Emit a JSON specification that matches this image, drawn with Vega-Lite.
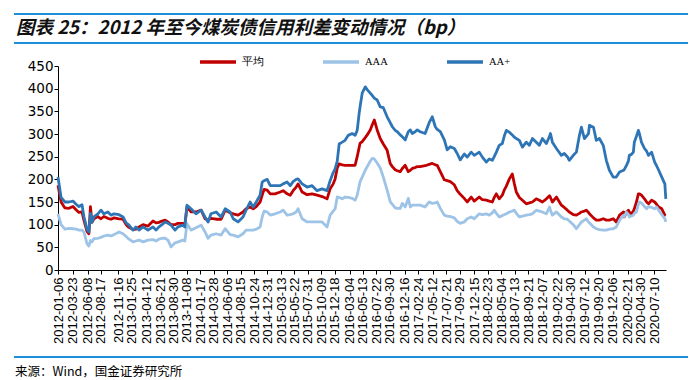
{
  "$schema": "https://vega.github.io/schema/vega-lite/v6.json",
  "background": "white",
  "padding": {"left": 12, "top": 12, "right": 2, "bottom": 0},
  "spacing": 5,
  "resolve": {"scale": {"color": "independent"}, "legend": {"color": "independent"}},
  "config": {"font": "Liberation Sans", "view": {"stroke": null}},
  "vconcat": [
    {
      "width": 674,
      "height": 29,
      "view": {"stroke": "#1B8FD8", "strokeWidth": 2, "strokeDash": [674, 29, 674, 29]},
      "title": {"text": "图表 25：2012 年至今煤炭债信用利差变动情况（bp）", "anchor": "start", "frame": "group", "orient": "top", "offset": -24, "dx": 2, "font": "Noto Sans CJK SC", "fontSize": 18.5, "fontWeight": "bold", "fontStyle": "italic", "color": "#111111"},
      "data": {"values": [{"line": 0}, {"line": 1}]},
      "mark": {"type": "rule", "color": "#1B8FD8", "strokeWidth": 2},
      "encoding": {"y": {"field": "line", "type": "quantitative", "scale": {"domain": [0, 1]}, "axis": null}}
    },
    {
      "spacing": 12,
      "resolve": {"scale": {"color": "independent"}, "legend": {"color": "independent"}},
      "hconcat": [
        {
          "width": 1,
          "height": 1,
          "data": {"values": []},
          "mark": "point",
          "encoding": {}
        },
        {
          "width": 608,
          "height": 204,
          "data": {"values": [
            {"date": "2012-01-06", "平均": 187, "AAA": 124, "AA+": 205},
            {"date": "2012-01-22", "平均": 150, "AAA": 100, "AA+": 160},
            {"date": "2012-02-11", "平均": 137, "AAA": 90, "AA+": 150},
            {"date": "2012-03-03", "平均": 136, "AAA": 92, "AA+": 150},
            {"date": "2012-03-24", "平均": 140, "AAA": 91, "AA+": 152},
            {"date": "2012-04-09", "平均": 133, "AAA": 90, "AA+": 145},
            {"date": "2012-04-24", "平均": 127, "AAA": 88, "AA+": 140},
            {"date": "2012-05-10", "平均": 128, "AAA": 88, "AA+": 144},
            {"date": "2012-05-20", "平均": 110, "AAA": 84, "AA+": 118},
            {"date": "2012-06-05", "平均": 85, "AAA": 58, "AA+": 90},
            {"date": "2012-06-15", "平均": 80, "AAA": 53, "AA+": 84},
            {"date": "2012-06-23", "平均": 140, "AAA": 65, "AA+": 125},
            {"date": "2012-07-01", "平均": 105, "AAA": 62, "AA+": 105},
            {"date": "2012-07-11", "平均": 113, "AAA": 69, "AA+": 117},
            {"date": "2012-08-01", "平均": 118, "AAA": 70, "AA+": 124},
            {"date": "2012-08-17", "平均": 113, "AAA": 72, "AA+": 132},
            {"date": "2012-09-01", "平均": 118, "AAA": 75, "AA+": 124},
            {"date": "2012-09-22", "平均": 114, "AAA": 77, "AA+": 128},
            {"date": "2012-10-08", "平均": 112, "AAA": 75, "AA+": 121},
            {"date": "2012-10-24", "平均": 115, "AAA": 78, "AA+": 124},
            {"date": "2012-11-19", "平均": 113, "AAA": 84, "AA+": 122},
            {"date": "2012-12-10", "平均": 112, "AAA": 80, "AA+": 117},
            {"date": "2012-12-26", "平均": 100, "AAA": 74, "AA+": 104},
            {"date": "2013-01-10", "平均": 94, "AAA": 68, "AA+": 99},
            {"date": "2013-01-31", "平均": 89, "AAA": 62, "AA+": 88},
            {"date": "2013-02-15", "平均": 90, "AAA": 64, "AA+": 95},
            {"date": "2013-03-03", "平均": 95, "AAA": 66, "AA+": 88},
            {"date": "2013-03-24", "平均": 100, "AAA": 62, "AA+": 95},
            {"date": "2013-04-19", "平均": 97, "AAA": 66, "AA+": 88},
            {"date": "2013-05-15", "平均": 108, "AAA": 67, "AA+": 95},
            {"date": "2013-05-31", "平均": 104, "AAA": 64, "AA+": 88},
            {"date": "2013-06-15", "平均": 105, "AAA": 68, "AA+": 95},
            {"date": "2013-07-01", "平均": 108, "AAA": 70, "AA+": 100},
            {"date": "2013-07-17", "平均": 110, "AAA": 70, "AA+": 106},
            {"date": "2013-08-01", "平均": 106, "AAA": 66, "AA+": 103},
            {"date": "2013-08-17", "平均": 100, "AAA": 51, "AA+": 99},
            {"date": "2013-09-07", "平均": 100, "AAA": 60, "AA+": 88},
            {"date": "2013-09-22", "平均": 103, "AAA": 62, "AA+": 95},
            {"date": "2013-10-18", "平均": 103, "AAA": 66, "AA+": 99},
            {"date": "2013-10-28", "平均": 100, "AAA": 64, "AA+": 95},
            {"date": "2013-11-08", "平均": 139, "AAA": 102, "AA+": 143},
            {"date": "2013-11-29", "平均": 128, "AAA": 88, "AA+": 135},
            {"date": "2013-12-25", "平均": 128, "AAA": 93, "AA+": 124},
            {"date": "2014-01-21", "平均": 132, "AAA": 99, "AA+": 132},
            {"date": "2014-02-10", "平均": 113, "AAA": 84, "AA+": 117},
            {"date": "2014-02-26", "平均": 110, "AAA": 70, "AA+": 106},
            {"date": "2014-03-13", "平均": 114, "AAA": 77, "AA+": 124},
            {"date": "2014-04-09", "平均": 112, "AAA": 80, "AA+": 128},
            {"date": "2014-05-05", "平均": 112, "AAA": 77, "AA+": 117},
            {"date": "2014-05-26", "平均": 132, "AAA": 91, "AA+": 135},
            {"date": "2014-06-21", "平均": 126, "AAA": 78, "AA+": 128},
            {"date": "2014-07-07", "平均": 124, "AAA": 77, "AA+": 113},
            {"date": "2014-08-01", "平均": 121, "AAA": 73, "AA+": 106},
            {"date": "2014-08-27", "平均": 128, "AAA": 80, "AA+": 117},
            {"date": "2014-09-12", "平均": 135, "AAA": 88, "AA+": 132},
            {"date": "2014-10-03", "平均": 139, "AAA": 88, "AA+": 150},
            {"date": "2014-10-19", "平均": 135, "AAA": 88, "AA+": 139},
            {"date": "2014-11-04", "平均": 140, "AAA": 90, "AA+": 150},
            {"date": "2014-11-24", "平均": 150, "AAA": 95, "AA+": 165},
            {"date": "2014-12-05", "平均": 165, "AAA": 117, "AA+": 194},
            {"date": "2014-12-15", "平均": 178, "AAA": 130, "AA+": 197},
            {"date": "2014-12-31", "平均": 176, "AAA": 128, "AA+": 200},
            {"date": "2015-01-16", "平均": 168, "AAA": 121, "AA+": 186},
            {"date": "2015-02-10", "平均": 168, "AAA": 124, "AA+": 186},
            {"date": "2015-03-09", "平均": 172, "AAA": 128, "AA+": 186},
            {"date": "2015-03-24", "平均": 175, "AAA": 132, "AA+": 190},
            {"date": "2015-04-14", "平均": 168, "AAA": 121, "AA+": 194},
            {"date": "2015-04-30", "平均": 165, "AAA": 122, "AA+": 186},
            {"date": "2015-05-15", "平均": 175, "AAA": 124, "AA+": 195},
            {"date": "2015-05-31", "平均": 183, "AAA": 128, "AA+": 200},
            {"date": "2015-06-10", "平均": 190, "AAA": 135, "AA+": 201},
            {"date": "2015-07-01", "平均": 172, "AAA": 113, "AA+": 190},
            {"date": "2015-07-27", "平均": 166, "AAA": 106, "AA+": 183},
            {"date": "2015-08-22", "平均": 168, "AAA": 106, "AA+": 186},
            {"date": "2015-09-17", "平均": 165, "AAA": 106, "AA+": 175},
            {"date": "2015-10-13", "平均": 162, "AAA": 106, "AA+": 179},
            {"date": "2015-11-08", "平均": 157, "AAA": 95, "AA+": 175},
            {"date": "2015-11-24", "平均": 179, "AAA": 121, "AA+": 197},
            {"date": "2015-12-10", "平均": 190, "AAA": 130, "AA+": 215},
            {"date": "2015-12-20", "平均": 201, "AAA": 135, "AA+": 223},
            {"date": "2015-12-31", "平均": 225, "AAA": 161, "AA+": 240},
            {"date": "2016-01-10", "平均": 234, "AAA": 160, "AA+": 278},
            {"date": "2016-01-26", "平均": 232, "AAA": 157, "AA+": 282},
            {"date": "2016-02-10", "平均": 231, "AAA": 161, "AA+": 286},
            {"date": "2016-02-26", "平均": 231, "AAA": 160, "AA+": 297},
            {"date": "2016-03-18", "平均": 231, "AAA": 158, "AA+": 301},
            {"date": "2016-04-02", "平均": 231, "AAA": 154, "AA+": 297},
            {"date": "2016-04-13", "平均": 250, "AAA": 165, "AA+": 308},
            {"date": "2016-04-23", "平均": 270, "AAA": 185, "AA+": 345},
            {"date": "2016-04-28", "平均": 280, "AAA": 195, "AA+": 360},
            {"date": "2016-05-09", "平均": 283, "AAA": 205, "AA+": 390},
            {"date": "2016-05-25", "平均": 292, "AAA": 220, "AA+": 404},
            {"date": "2016-06-04", "平均": 298, "AAA": 228, "AA+": 398},
            {"date": "2016-06-20", "平均": 309, "AAA": 240, "AA+": 390},
            {"date": "2016-06-30", "平均": 320, "AAA": 246, "AA+": 385},
            {"date": "2016-07-11", "平均": 331, "AAA": 245, "AA+": 379},
            {"date": "2016-07-26", "平均": 309, "AAA": 236, "AA+": 375},
            {"date": "2016-08-11", "平均": 290, "AAA": 225, "AA+": 360},
            {"date": "2016-08-27", "平均": 278, "AAA": 205, "AA+": 358},
            {"date": "2016-09-16", "平均": 264, "AAA": 176, "AA+": 338},
            {"date": "2016-10-02", "平均": 235, "AAA": 151, "AA+": 325},
            {"date": "2016-10-13", "平均": 228, "AAA": 145, "AA+": 316},
            {"date": "2016-10-28", "平均": 221, "AAA": 137, "AA+": 308},
            {"date": "2016-11-08", "平均": 219, "AAA": 136, "AA+": 305},
            {"date": "2016-11-23", "平均": 217, "AAA": 136, "AA+": 298},
            {"date": "2016-12-04", "平均": 224, "AAA": 147, "AA+": 294},
            {"date": "2016-12-19", "平均": 231, "AAA": 139, "AA+": 287},
            {"date": "2017-01-04", "平均": 217, "AAA": 158, "AA+": 305},
            {"date": "2017-01-15", "平均": 220, "AAA": 139, "AA+": 309},
            {"date": "2017-01-25", "平均": 224, "AAA": 143, "AA+": 301},
            {"date": "2017-02-09", "平均": 226, "AAA": 143, "AA+": 305},
            {"date": "2017-02-20", "平均": 228, "AAA": 143, "AA+": 309},
            {"date": "2017-03-07", "平均": 228, "AAA": 143, "AA+": 305},
            {"date": "2017-04-02", "平均": 230, "AAA": 139, "AA+": 301},
            {"date": "2017-04-23", "平均": 233, "AAA": 150, "AA+": 325},
            {"date": "2017-05-09", "平均": 235, "AAA": 147, "AA+": 338},
            {"date": "2017-05-25", "平均": 232, "AAA": 148, "AA+": 316},
            {"date": "2017-06-04", "平均": 231, "AAA": 150, "AA+": 310},
            {"date": "2017-06-20", "平均": 217, "AAA": 136, "AA+": 305},
            {"date": "2017-07-11", "平均": 199, "AAA": 121, "AA+": 287},
            {"date": "2017-07-26", "平均": 197, "AAA": 119, "AA+": 265},
            {"date": "2017-08-11", "平均": 195, "AAA": 118, "AA+": 272},
            {"date": "2017-09-01", "平均": 188, "AAA": 115, "AA+": 268},
            {"date": "2017-09-16", "平均": 175, "AAA": 107, "AA+": 257},
            {"date": "2017-10-02", "平均": 167, "AAA": 103, "AA+": 243},
            {"date": "2017-10-23", "平均": 158, "AAA": 106, "AA+": 256},
            {"date": "2017-11-07", "平均": 150, "AAA": 113, "AA+": 249},
            {"date": "2017-11-28", "平均": 161, "AAA": 117, "AA+": 260},
            {"date": "2017-12-14", "平均": 152, "AAA": 113, "AA+": 253},
            {"date": "2018-01-09", "平均": 161, "AAA": 124, "AA+": 260},
            {"date": "2018-01-25", "平均": 155, "AAA": 122, "AA+": 249},
            {"date": "2018-02-15", "平均": 154, "AAA": 124, "AA+": 238},
            {"date": "2018-03-02", "平均": 152, "AAA": 121, "AA+": 245},
            {"date": "2018-03-18", "平均": 150, "AAA": 126, "AA+": 242},
            {"date": "2018-03-28", "平均": 160, "AAA": 132, "AA+": 250},
            {"date": "2018-04-08", "平均": 168, "AAA": 125, "AA+": 260},
            {"date": "2018-04-23", "平均": 157, "AAA": 117, "AA+": 275},
            {"date": "2018-05-09", "平均": 165, "AAA": 120, "AA+": 279},
            {"date": "2018-05-19", "平均": 176, "AAA": 122, "AA+": 295},
            {"date": "2018-05-30", "平均": 185, "AAA": 124, "AA+": 308},
            {"date": "2018-06-15", "平均": 201, "AAA": 128, "AA+": 304},
            {"date": "2018-06-30", "平均": 212, "AAA": 130, "AA+": 298},
            {"date": "2018-07-11", "平均": 190, "AAA": 132, "AA+": 293},
            {"date": "2018-07-21", "平均": 172, "AAA": 125, "AA+": 290},
            {"date": "2018-08-06", "平均": 160, "AAA": 117, "AA+": 286},
            {"date": "2018-08-22", "平均": 154, "AAA": 119, "AA+": 271},
            {"date": "2018-09-11", "平均": 146, "AAA": 121, "AA+": 282},
            {"date": "2018-09-27", "平均": 148, "AAA": 122, "AA+": 275},
            {"date": "2018-10-13", "平均": 150, "AAA": 124, "AA+": 290},
            {"date": "2018-11-02", "平均": 157, "AAA": 132, "AA+": 282},
            {"date": "2018-11-18", "平均": 154, "AAA": 130, "AA+": 275},
            {"date": "2018-12-04", "平均": 150, "AAA": 128, "AA+": 290},
            {"date": "2018-12-25", "平均": 157, "AAA": 124, "AA+": 279},
            {"date": "2019-01-10", "平均": 164, "AAA": 139, "AA+": 295},
            {"date": "2019-01-15", "平均": 160, "AAA": 132, "AA+": 301},
            {"date": "2019-01-25", "平均": 150, "AAA": 121, "AA+": 282},
            {"date": "2019-02-15", "平均": 161, "AAA": 128, "AA+": 268},
            {"date": "2019-03-13", "平均": 143, "AAA": 117, "AA+": 253},
            {"date": "2019-03-28", "平均": 138, "AAA": 113, "AA+": 257},
            {"date": "2019-04-13", "平均": 132, "AAA": 112, "AA+": 250},
            {"date": "2019-04-23", "平均": 128, "AAA": 108, "AA+": 242},
            {"date": "2019-05-14", "平均": 122, "AAA": 100, "AA+": 253},
            {"date": "2019-05-30", "平均": 121, "AAA": 91, "AA+": 260},
            {"date": "2019-06-15", "平均": 125, "AAA": 100, "AA+": 297},
            {"date": "2019-06-25", "平均": 128, "AAA": 106, "AA+": 315},
            {"date": "2019-07-11", "平均": 130, "AAA": 110, "AA+": 290},
            {"date": "2019-07-21", "平均": 132, "AAA": 113, "AA+": 295},
            {"date": "2019-08-01", "平均": 127, "AAA": 106, "AA+": 301},
            {"date": "2019-08-06", "平均": 124, "AAA": 104, "AA+": 319},
            {"date": "2019-08-27", "平均": 115, "AAA": 95, "AA+": 315},
            {"date": "2019-09-11", "平均": 110, "AAA": 91, "AA+": 286},
            {"date": "2019-09-27", "平均": 110, "AAA": 89, "AA+": 290},
            {"date": "2019-10-17", "平均": 113, "AAA": 88, "AA+": 275},
            {"date": "2019-11-02", "平均": 110, "AAA": 88, "AA+": 242},
            {"date": "2019-11-18", "平均": 110, "AAA": 90, "AA+": 220},
            {"date": "2019-12-08", "平均": 113, "AAA": 91, "AA+": 205},
            {"date": "2019-12-24", "平均": 106, "AAA": 95, "AA+": 205},
            {"date": "2020-01-10", "平均": 121, "AAA": 110, "AA+": 216},
            {"date": "2020-01-31", "平均": 128, "AAA": 121, "AA+": 220},
            {"date": "2020-02-04", "平均": 117, "AAA": 118, "AA+": 222},
            {"date": "2020-02-15", "平均": 128, "AAA": 128, "AA+": 231},
            {"date": "2020-02-25", "平均": 132, "AAA": 122, "AA+": 240},
            {"date": "2020-03-01", "平均": 128, "AAA": 117, "AA+": 253},
            {"date": "2020-03-12", "平均": 124, "AAA": 119, "AA+": 255},
            {"date": "2020-03-22", "平均": 130, "AAA": 121, "AA+": 260},
            {"date": "2020-03-27", "平均": 135, "AAA": 125, "AA+": 282},
            {"date": "2020-04-07", "平均": 150, "AAA": 128, "AA+": 295},
            {"date": "2020-04-17", "平均": 168, "AAA": 145, "AA+": 308},
            {"date": "2020-04-23", "平均": 168, "AAA": 150, "AA+": 300},
            {"date": "2020-05-03", "平均": 165, "AAA": 148, "AA+": 282},
            {"date": "2020-05-19", "平均": 157, "AAA": 140, "AA+": 268},
            {"date": "2020-05-30", "平均": 150, "AAA": 135, "AA+": 262},
            {"date": "2020-06-09", "平均": 146, "AAA": 140, "AA+": 253},
            {"date": "2020-06-25", "平均": 154, "AAA": 138, "AA+": 260},
            {"date": "2020-07-11", "平均": 150, "AAA": 135, "AA+": 238},
            {"date": "2020-07-21", "平均": 145, "AAA": 139, "AA+": 230},
            {"date": "2020-08-01", "平均": 139, "AAA": 132, "AA+": 220},
            {"date": "2020-08-17", "平均": 135, "AAA": 122, "AA+": 205},
            {"date": "2020-09-02", "平均": 121, "AAA": 113, "AA+": 190},
            {"date": "2020-09-07", "平均": 120, "AAA": 106, "AA+": 157}
          ]},
          "transform": [{"fold": ["平均", "AAA", "AA+"], "as": ["series", "value"]}],
          "mark": {"type": "line", "strokeWidth": 2.8, "strokeJoin": "round"},
          "encoding": {
            "x": {
              "field": "date", "type": "temporal",
              "scale": {"type": "utc", "nice": false, "domain": [{"year": 2012, "month": 1, "date": 6, "utc": true}, {"year": 2020, "month": 9, "date": 8, "utc": true}]},
              "axis": {
                "title": " ", "titleFontSize": 3, "titlePadding": 4,
                "grid": false, "format": "%Y-%m-%d", "labelAngle": -90,
                "labelFont": "Liberation Sans", "labelFontSize": 13, "labelColor": "#000000",
                "labelPadding": 3, "labelOverlap": false, "labelFlush": false, "labelBound": false,
                "tickSize": 4, "tickColor": "#000000", "domainColor": "#000000",
                "values": [
                  {"year": 2012, "month": 1, "date": 6, "utc": true},
                  {"year": 2012, "month": 3, "date": 23, "utc": true},
                  {"year": 2012, "month": 6, "date": 8, "utc": true},
                  {"year": 2012, "month": 8, "date": 17, "utc": true},
                  {"year": 2012, "month": 11, "date": 16, "utc": true},
                  {"year": 2013, "month": 1, "date": 25, "utc": true},
                  {"year": 2013, "month": 4, "date": 12, "utc": true},
                  {"year": 2013, "month": 6, "date": 21, "utc": true},
                  {"year": 2013, "month": 8, "date": 30, "utc": true},
                  {"year": 2013, "month": 11, "date": 8, "utc": true},
                  {"year": 2014, "month": 1, "date": 17, "utc": true},
                  {"year": 2014, "month": 3, "date": 28, "utc": true},
                  {"year": 2014, "month": 6, "date": 6, "utc": true},
                  {"year": 2014, "month": 8, "date": 15, "utc": true},
                  {"year": 2014, "month": 10, "date": 24, "utc": true},
                  {"year": 2014, "month": 12, "date": 31, "utc": true},
                  {"year": 2015, "month": 3, "date": 13, "utc": true},
                  {"year": 2015, "month": 5, "date": 22, "utc": true},
                  {"year": 2015, "month": 7, "date": 31, "utc": true},
                  {"year": 2015, "month": 10, "date": 9, "utc": true},
                  {"year": 2015, "month": 12, "date": 18, "utc": true},
                  {"year": 2016, "month": 3, "date": 4, "utc": true},
                  {"year": 2016, "month": 5, "date": 13, "utc": true},
                  {"year": 2016, "month": 7, "date": 22, "utc": true},
                  {"year": 2016, "month": 9, "date": 30, "utc": true},
                  {"year": 2016, "month": 12, "date": 16, "utc": true},
                  {"year": 2017, "month": 2, "date": 24, "utc": true},
                  {"year": 2017, "month": 5, "date": 12, "utc": true},
                  {"year": 2017, "month": 7, "date": 21, "utc": true},
                  {"year": 2017, "month": 9, "date": 29, "utc": true},
                  {"year": 2017, "month": 12, "date": 15, "utc": true},
                  {"year": 2018, "month": 2, "date": 23, "utc": true},
                  {"year": 2018, "month": 5, "date": 4, "utc": true},
                  {"year": 2018, "month": 7, "date": 13, "utc": true},
                  {"year": 2018, "month": 9, "date": 21, "utc": true},
                  {"year": 2018, "month": 12, "date": 7, "utc": true},
                  {"year": 2019, "month": 2, "date": 22, "utc": true},
                  {"year": 2019, "month": 4, "date": 30, "utc": true},
                  {"year": 2019, "month": 7, "date": 12, "utc": true},
                  {"year": 2019, "month": 9, "date": 20, "utc": true},
                  {"year": 2019, "month": 12, "date": 6, "utc": true},
                  {"year": 2020, "month": 2, "date": 21, "utc": true},
                  {"year": 2020, "month": 4, "date": 30, "utc": true},
                  {"year": 2020, "month": 7, "date": 10, "utc": true}
                ]
              }
            },
            "y": {
              "field": "value", "type": "quantitative",
              "scale": {"domain": [0, 450], "nice": false},
              "axis": {
                "values": [0, 50, 100, 150, 200, 250, 300, 350, 400, 450],
                "grid": false, "title": null,
                "labelFont": "DejaVu Sans", "labelFontSize": 13.5, "labelColor": "#000000",
                "labelPadding": 1, "tickSize": 4, "tickColor": "#000000", "domainColor": "#000000"
              }
            },
            "color": {
              "field": "series", "type": "nominal",
              "scale": {"domain": ["平均", "AAA", "AA+"], "range": ["#C00000", "#9DC3E6", "#2E75B6"]},
              "legend": {
                "orient": "none", "legendX": 148, "legendY": -16, "direction": "horizontal",
                "title": null, "symbolType": "M-3,0H3", "symbolSize": 144, "symbolStrokeWidth": 3.5,
                "labelFont": "Liberation Serif", "labelFontSize": 10.5, "labelColor": "#000000",
                "labelOffset": 16, "columnPadding": 52, "padding": 4
              }
            }
          }
        }
      ]
    },
    {
      "width": 674,
      "height": 1,
      "view": {"fill": "#1B8FD8", "stroke": null},
      "title": {"text": "来源：Wind，国金证券研究所", "orient": "bottom", "anchor": "start", "frame": "group", "offset": 8, "dx": 1, "font": "Noto Sans CJK SC", "fontSize": 12.5, "fontWeight": "normal", "color": "#000000"},
      "data": {"values": [{"line": 1}]},
      "mark": {"type": "rule", "color": "#1B8FD8", "strokeWidth": 2},
      "encoding": {"y": {"field": "line", "type": "quantitative", "scale": {"domain": [0, 1]}, "axis": null}}
    }
  ]
}
